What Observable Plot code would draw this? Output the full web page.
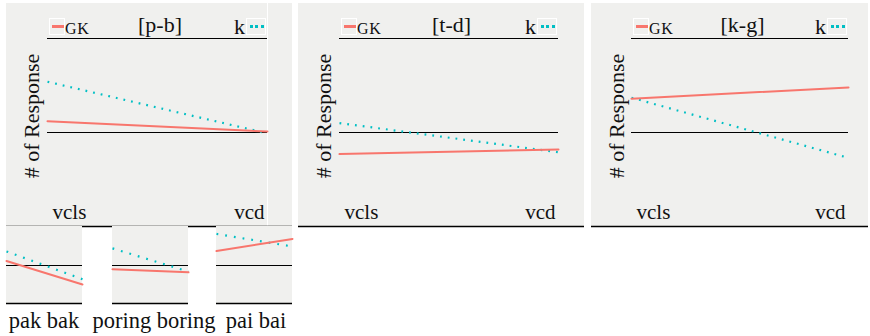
<!DOCTYPE html>
<html>
<head>
<meta charset="utf-8">
<script src="https://cdn.jsdelivr.net/npm/d3@7"></script>
<script src="https://cdn.jsdelivr.net/npm/@observablehq/plot@0.6"></script>
<style>
  body { margin: 0; background: #fff; }
  #wrap { position: relative; width: 870px; height: 336px; font-family: 'Liberation Serif', 'Tinos', 'Times New Roman', 'DejaVu Serif', serif; color: #111; }
  .abs { position: absolute; }
  .abs svg { display: block; }
  .title { position: absolute; font-size: 22px; line-height: 1; white-space: nowrap; transform: translateX(-50%); }
  .ylab { position: absolute; font-size: 22px; white-space: nowrap; transform: translate(-50%, -50%) rotate(-90deg); line-height: 1; }
  .word { position: absolute; font-size: 22.5px; white-space: nowrap; transform: translateX(-50%); line-height: 1; }
  .key { position: absolute; width: 14px; height: 15px; border: 1px solid #fff; box-sizing: content-box; }
  .key span { position: absolute; left: 2px; right: 0; top: 6.5px; height: 0; }
  .lg { position: absolute; white-space: nowrap; line-height: 1; }
</style>
</head>
<body>
<div id="wrap"></div>
<script>
// ---- data ----
const conditions = ["vcls", "vcd"];
const seriesNames = ["GK", "k"];
const panelTitles = ["[p-b]", "[t-d]", "[k-g]"];
const gkTop = [[0.12, 0.01], [-0.23, -0.18], [0.36, 0.48]];
const kTop = [[0.54, -0.01], [0.10, -0.21], [0.37, -0.27]];
const words = ["pak bak", "poring boring", "pai bai"];
const gkBottom = [[0.12, -0.50], [-0.10, -0.18], [0.38, 0.70]];
const kBottom = [[0.37, -0.36], [0.45, -0.16], [0.83, 0.50]];
const yLabel = "# of Response";

// ---- style ----
const RED = "#F8766D", TEAL = "#00BFC4", BG = "#f0f0ee";
const FONT = "'Liberation Serif', 'Tinos', 'Times New Roman', 'DejaVu Serif', serif";
const topLayout = [
  {left: 6, width: 286, ml: 41, mr: 25},
  {left: 298, width: 286, ml: 41, mr: 26},
  {left: 591, width: 277, ml: 40, mr: 20}
];
const bottomLayout = [{left: 6, width: 76}, {left: 112, width: 76}, {left: 216, width: 76}];

const wrap = document.getElementById("wrap");

function rowsFor(gk, k) {
  return conditions.flatMap((c, j) => [
    {cond: c, series: seriesNames[0], v: gk[j]},
    {cond: c, series: seriesNames[1], v: k[j]}
  ]);
}

function place(el, left, top) {
  const d = document.createElement("div");
  d.className = "abs";
  d.style.left = left + "px";
  d.style.top = top + "px";
  d.appendChild(el);
  wrap.appendChild(d);
}

function addDiv(cls, text, left, top) {
  const d = document.createElement("div");
  d.className = cls;
  d.textContent = text;
  d.style.left = left + "px";
  d.style.top = top + "px";
  wrap.appendChild(d);
  return d;
}

topLayout.forEach((L, i) => {
  const rows = rowsFor(gkTop[i], kTop[i]);
  const marks = [];
  if (i === 0) marks.push(Plot.ruleX([conditions[1]], {stroke: "#fff", strokeWidth: 1, insetTop: -35}));
  marks.push(
    Plot.ruleY([1, 0], {stroke: "#000", strokeWidth: 1.2}),
    Plot.ruleY([-1], {stroke: "#000", strokeWidth: 1.3, insetLeft: -L.ml, insetRight: -L.mr}),
    Plot.line(rows.filter(d => d.series === seriesNames[1]), {x: "cond", y: "v", stroke: TEAL, strokeWidth: 2.2, strokeDasharray: "1.8,6", strokeLinecap: "butt"}),
    Plot.line(rows.filter(d => d.series === seriesNames[0]), {x: "cond", y: "v", stroke: RED, strokeWidth: 2}),
    Plot.text([conditions[0]], {x: d => d, y: () => -1, textAnchor: "start", dx: 5, dy: -14, fontSize: 21, fill: "#111", fontFamily: FONT}),
    Plot.text([conditions[1]], {x: d => d, y: () => -1, textAnchor: "end", dx: -3, dy: -14, fontSize: 21, fill: "#111", fontFamily: FONT})
  );
  const chart = Plot.plot({
    width: L.width, height: 224,
    marginTop: 35, marginBottom: 1, marginLeft: L.ml, marginRight: L.mr,
    style: {background: BG, fontFamily: FONT, overflow: "visible"},
    x: {type: "point", domain: conditions, padding: 0, axis: null},
    y: {domain: [-1, 1], axis: null},
    marks
  });
  place(chart, L.left, 3);

  const plotLeft = L.left + L.ml, plotRight = L.left + L.width - L.mr;
  addDiv("title", panelTitles[i], (plotLeft + plotRight) / 2 + 3, 14);
  addDiv("ylab", yLabel, L.left + 25.5, 116);
  const k1 = document.createElement("div");
  k1.className = "key";
  k1.style.left = (plotLeft + 2) + "px"; k1.style.top = "18px"; k1.style.background = BG;
  const s1 = document.createElement("span");
  s1.style.borderTop = "3px solid " + RED; s1.style.top = "6px";
  k1.appendChild(s1); wrap.appendChild(k1);
  const g = addDiv("lg", seriesNames[0].toUpperCase(), plotLeft + 18, 21);
  g.style.fontSize = "16px"; g.style.letterSpacing = "0.8px";
  const k2 = document.createElement("div");
  k2.className = "key";
  k2.style.left = (plotRight - 21) + "px"; k2.style.top = "18px"; k2.style.width = "18px"; k2.style.background = BG;
  const s2 = document.createElement("span");
  s2.style.borderTop = "3px dotted " + TEAL; s2.style.top = "6px"; s2.style.left = "3px"; s2.style.right = "1px";
  k2.appendChild(s2); wrap.appendChild(k2);
  const kk = addDiv("lg", seriesNames[1], 0, 16);
  kk.style.fontSize = "22px";
  kk.style.left = "auto";
  kk.style.right = (870 - (plotRight - 22)) + "px";
});

bottomLayout.forEach((L, i) => {
  const rows = rowsFor(gkBottom[i], kBottom[i]);
  const chart = Plot.plot({
    width: L.width, height: 78,
    marginTop: 1, marginBottom: 1, marginLeft: 0, marginRight: 0,
    style: {background: BG, fontFamily: FONT, overflow: "visible"},
    x: {type: "point", domain: conditions, padding: 0, axis: null},
    y: {domain: [-1, 1], axis: null},
    marks: [
      Plot.ruleY([0], {stroke: "#000", strokeWidth: 1.2}),
      Plot.ruleY([-1], {stroke: "#000", strokeWidth: 1.3}),
      Plot.line(rows.filter(d => d.series === seriesNames[1]), {x: "cond", y: "v", stroke: TEAL, strokeWidth: 2.2, strokeDasharray: "1.8,7", strokeLinecap: "butt"}),
      Plot.line(rows.filter(d => d.series === seriesNames[0]), {x: "cond", y: "v", stroke: RED, strokeWidth: 2})
    ]
  });
  place(chart, L.left, 226);
  addDiv("word", words[i], L.left + L.width / 2 + (i === 1 ? 4 : i === 2 ? 2 : 0), 310);
});
</script>
</body>
</html>
